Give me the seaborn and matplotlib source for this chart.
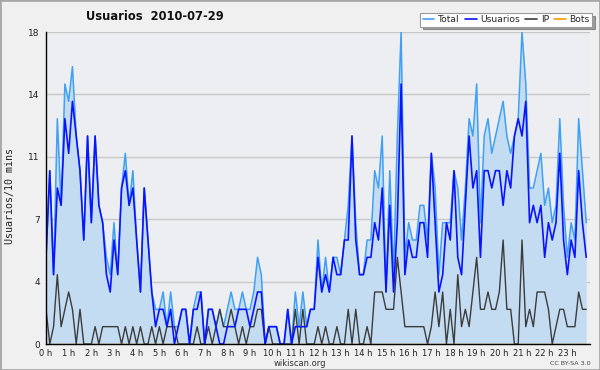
import numpy as np
import pandas as pd
import matplotlib
matplotlib.use("Agg")
import matplotlib.pyplot as plt
from matplotlib.ticker import FixedLocator, MultipleLocator
from matplotlib.patches import Rectangle
import seaborn as sns

# ---- data (10-minute slots, 2010-07-29) ----
usuarios = [5,10,4,9,8,13,11,14,12,10,
            6,12,7,12,8,7,4,3,6,4,
            9,10,8,9,6,3,9,6,3,1,
            2,2,1,2,0,1,2,2,0,2,
            2,3,0,2,2,1,0,0,1,1,
            1,2,2,2,1,2,3,3,0,1,
            1,1,0,0,2,0,1,1,1,1,
            2,2,5,3,4,3,5,4,4,6,
            6,12,6,4,4,5,5,7,6,9,
            3,8,3,7,15,4,6,5,5,7,
            7,5,11,7,3,4,7,6,10,5,
            4,8,12,9,10,5,10,10,9,10,
            10,8,10,9,12,13,12,14,7,8,
            7,8,5,7,6,7,11,6,4,6,
            5,10,7,5]
total = [5,10,4,13,8,15,14,16,12,10,
         6,12,7,12,8,7,5,4,7,4,
         9,11,8,10,6,3,9,6,3,2,
         2,3,1,3,1,1,2,2,0,2,
         3,3,0,2,2,1,2,1,2,3,
         2,2,3,2,2,3,5,4,0,1,
         1,1,0,0,2,0,3,1,3,1,
         2,2,6,3,5,3,5,5,4,6,
         8,12,7,4,4,6,6,10,9,12,
         3,10,4,12,18,5,7,6,6,8,
         8,6,11,9,4,7,7,7,10,9,
         6,9,13,12,15,7,12,13,11,12,
         13,14,12,11,12,13,18,15,9,9,
         10,11,8,9,7,8,13,8,5,7,
         6,13,10,7]
ip = [2,0,1,4,1,2,3,2,0,2,
      0,0,0,1,0,1,1,1,1,1,
      0,1,0,1,0,1,0,0,1,0,
      1,0,1,1,1,0,0,0,0,0,
      1,0,0,1,0,1,2,1,1,2,
      1,0,1,0,1,1,2,2,0,1,
      0,0,0,0,0,0,2,0,2,0,
      0,0,1,0,1,0,0,1,0,0,
      2,0,2,0,0,1,0,3,3,3,
      2,2,2,5,3,1,1,1,1,1,
      1,0,1,3,1,3,0,2,0,4,
      1,2,1,3,5,2,2,3,2,2,
      3,6,2,2,0,0,6,1,2,1,
      3,3,3,2,0,1,2,2,1,1,
      1,3,2,2]
bots = [0] * 144
hour_labels = [f"{h} h" for h in range(24)]
y_ticks = [0, 3.6, 7.2, 10.8, 14.4, 18]
y_labels = ["0", "4", "7", "11", "14", "18"]

slots = np.arange(len(total)) / 6.0  # hours
df = pd.DataFrame({"hora": slots, "Total": total, "Usuarios": usuarios,
                   "IP": ip, "Bots": bots})

sns.set_theme(style="white")
plt.rcParams['font.family'] = ['DejaVu Sans']

c_total = "#3fa0f5"
c_user = "#0a14ff"
c_ip = "#3c3c3c"
c_bots = "#ff9900"

fig = plt.figure(figsize=(6, 3.7), dpi=100, facecolor="#f0f0f0")
fig.patches.append(Rectangle((0, 0), 1, 1, transform=fig.transFigure,
                             fill=False, edgecolor="#a8a8a8", lw=2, zorder=10))
ax = fig.add_axes([46/600, 26/370, 544/600, 312/370])
ax.set_facecolor("#edeef1")

ax.fill_between(df["hora"], 0, df["Total"], color="#c4dcf1", lw=0, zorder=1)
sns.lineplot(data=df, x="hora", y="Bots", ax=ax, color=c_bots, lw=1, zorder=1.5)
sns.lineplot(data=df, x="hora", y="Total", ax=ax, color=c_total, lw=1.1, zorder=2)
sns.lineplot(data=df, x="hora", y="IP", ax=ax, color=c_ip, lw=1.0, zorder=2.1)
sns.lineplot(data=df, x="hora", y="Usuarios", ax=ax, color=c_user, lw=1.2, zorder=2.2)

ax.set_xlim(0, 24)
ax.set_ylim(0, 18)
ax.set_xlabel("")
ax.set_ylabel("")

ax.xaxis.set_major_locator(FixedLocator(range(24)))
ax.set_xticklabels(hour_labels, fontsize=6)
ax.xaxis.set_minor_locator(MultipleLocator(1/6))
ax.yaxis.set_major_locator(FixedLocator(y_ticks))
ax.set_yticklabels(y_labels, fontsize=6.5)
ax.yaxis.set_minor_locator(MultipleLocator(0.9))
ax.tick_params(axis="both", which="major", direction="out", length=3.5,
               width=0.8, color="black", pad=1, labelcolor="#222222")
ax.tick_params(axis="both", which="minor", direction="out", length=2.2,
               width=0.6, color="black")
ax.tick_params(axis="x", which="major", length=3.5, pad=0)

ax.grid(axis="y", which="major", color="#c8c8c8", lw=1)
ax.set_axisbelow(True)
for s in ["top", "right"]:
    ax.spines[s].set_visible(False)
for s in ["left", "bottom"]:
    ax.spines[s].set_color("black")
    ax.spines[s].set_linewidth(1)
    ax.spines[s].set_zorder(5)

fig.text(86/600, 1 - 17/370, "Usuarios  2010-07-29", fontsize=8.3,
         fontweight="bold", ha="left", va="center", color="#111111")
fig.text(10/600, 1 - 196/370, "Usuarios/10 mins", rotation=90, fontsize=7.2,
         family="DejaVu Sans Mono", ha="center", va="center", color="#222222")
fig.text(300/600, 1 - 363.5/370, "wikiscan.org", fontsize=6, ha="center",
         va="center", color="#333333")
fig.text(591/600, 1 - 363.5/370, "CC BY-SA 3.0", fontsize=4.6, ha="right",
         va="center", color="#444444")

handles = [plt.Line2D([], [], color=c, lw=1.2) for c in (c_total, c_user, c_ip, c_bots)]
leg = fig.legend(handles, ["Total", "Usuarios", "IP", "Bots"], ncol=4,
                 loc="upper right", bbox_to_anchor=(592/600, 1 - 13/370),
                 fontsize=6.6, frameon=True, fancybox=False, shadow=True,
                 handlelength=1.3, handletextpad=0.4, columnspacing=0.55,
                 borderpad=0.25, borderaxespad=0)
leg.get_frame().set_edgecolor("#9a9a9a")
leg.get_frame().set_facecolor("white")
leg.get_frame().set_linewidth(0.8)

fig.savefig("out.png", dpi=100, facecolor=fig.get_facecolor())
